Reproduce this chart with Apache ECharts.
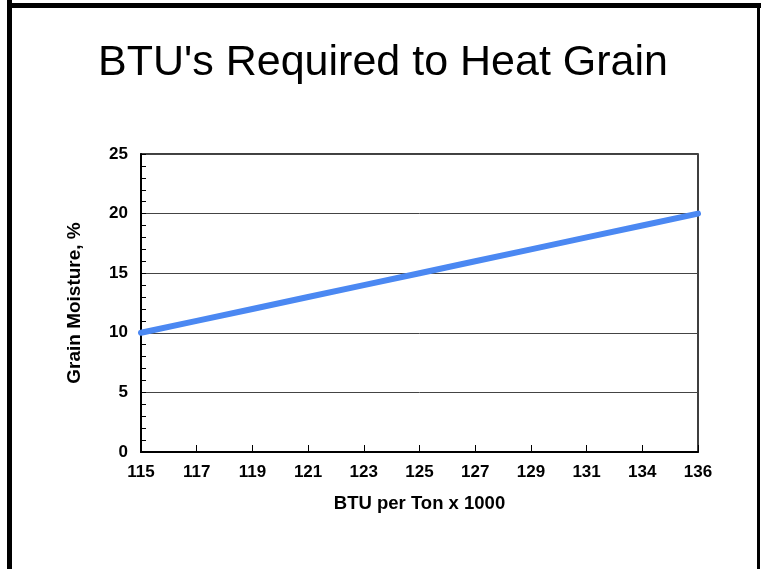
<!DOCTYPE html>
<html>
<head>
<meta charset="utf-8">
<script src="https://cdn.jsdelivr.net/npm/echarts@6/dist/echarts.min.js"></script>
<style>
html,body{margin:0;padding:0;background:#fff;}
#chart{width:761px;height:569px;}
</style>
</head>
<body>
<div id="chart"></div>
<script>
const titleText = "BTU's Required to Heat Grain";
const xAxisName = "BTU per Ton x 1000";
const yAxisName = "Grain Moisture, %";
const categories = ["115","117","119","121","123","125","127","129","131","134","136"];
const moisture = [10, 11, 12, 13, 14, 15, 16, 17, 18, 19, 20];

const chart = echarts.init(document.getElementById('chart'), null, {renderer: 'canvas'});
const FONT = '"Liberation Sans", Arial, Helvetica, sans-serif';
chart.setOption({
  animation: false,
  backgroundColor: '#fff',
  graphic: [
    {type: 'line', shape: {x1: 9.5, y1: 0, x2: 9.5, y2: 569}, style: {stroke: '#000', lineWidth: 5}},
    {type: 'line', shape: {x1: 7, y1: 5.5, x2: 761, y2: 5.5}, style: {stroke: '#000', lineWidth: 5}},
    {type: 'line', shape: {x1: 758.5, y1: 3, x2: 758.5, y2: 569}, style: {stroke: '#000', lineWidth: 3}},
    {type: 'text', x: 383, y: 63, style: {text: titleText, font: '43px ' + FONT, fill: '#000', textAlign: 'center', textVerticalAlign: 'middle'}}
  ],
  grid: {left: 141, right: 63, top: 154, bottom: 117, show: true, borderColor: '#000', borderWidth: 1.5, backgroundColor: 'transparent'},
  xAxis: {
    type: 'category',
    data: categories,
    boundaryGap: false,
    name: xAxisName,
    nameLocation: 'middle',
    nameGap: 42,
    nameTextStyle: {fontFamily: FONT, fontWeight: 'bold', fontSize: 18.5, color: '#000'},
    axisLine: {show: true, lineStyle: {color: '#000', width: 2}},
    axisTick: {show: true, inside: true, length: 7, lineStyle: {color: '#000', width: 1}},
    axisLabel: {fontFamily: FONT, fontWeight: 'bold', fontSize: 17, color: '#000', margin: 12},
    splitLine: {show: false}
  },
  yAxis: {
    type: 'value',
    min: 0, max: 25, interval: 5,
    name: yAxisName,
    nameLocation: 'middle',
    nameGap: 57,
    nameTextStyle: {fontFamily: FONT, fontWeight: 'bold', fontSize: 19, color: '#000'},
    axisLine: {show: true, lineStyle: {color: '#000', width: 2}},
    axisTick: {show: true, inside: true, length: 5, lineStyle: {color: '#000', width: 1}},
    minorTick: {show: true, splitNumber: 5, length: 5, lineStyle: {color: '#000', width: 1}},
    axisLabel: {fontFamily: FONT, fontWeight: 'bold', fontSize: 17, color: '#000', margin: 13},
    splitLine: {show: true, lineStyle: {color: '#444', width: 1}}
  },
  series: [{
    type: 'line',
    data: moisture,
    showSymbol: false,
    symbol: 'none',
    lineStyle: {color: '#4B88F2', width: 6, cap: 'round'},
    itemStyle: {color: '#4B88F2'}
  }]
});
</script>
</body>
</html>
